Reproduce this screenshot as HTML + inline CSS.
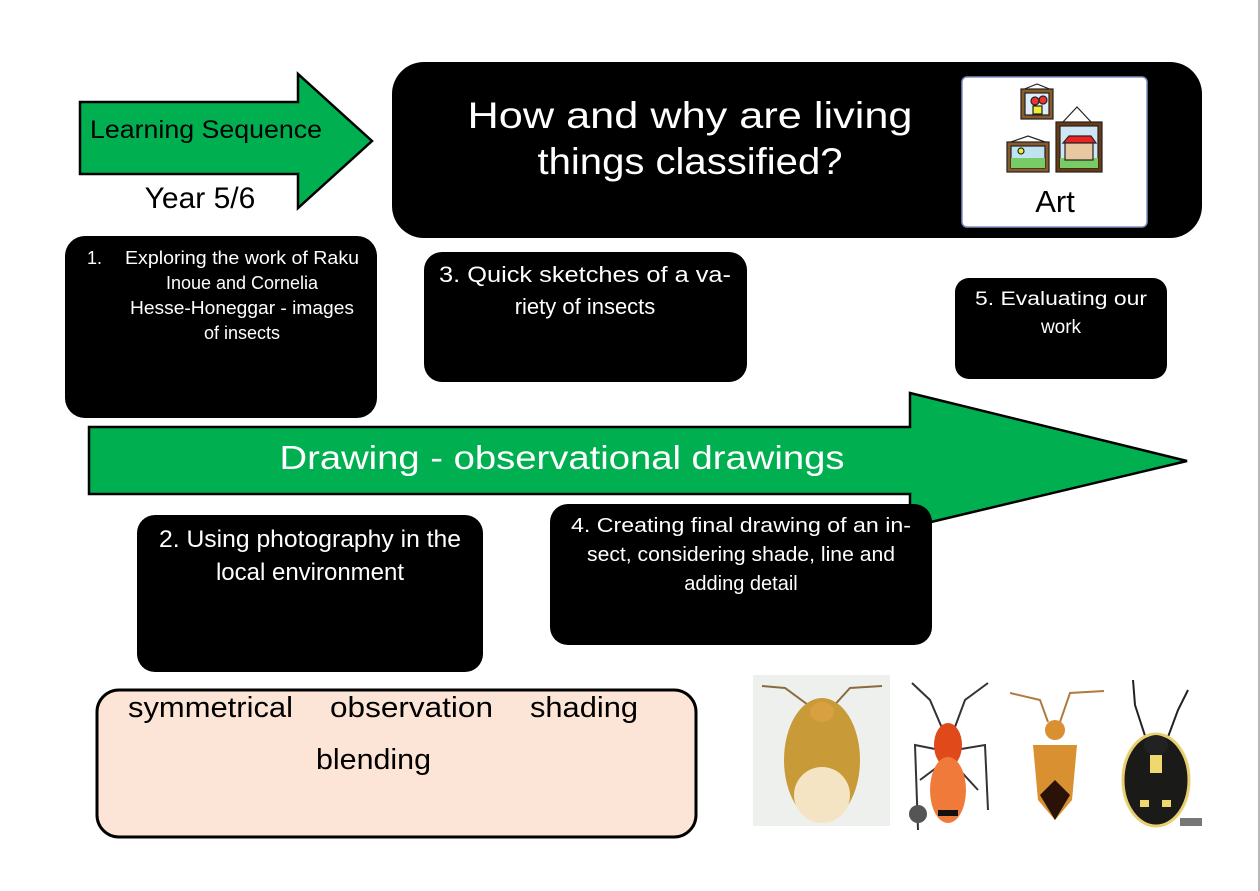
<!DOCTYPE html>
<html><head><meta charset="utf-8"><style>
html,body{margin:0;padding:0;background:#fff;}
svg{display:block;}
text{font-family:"Liberation Sans",sans-serif;font-weight:normal;}
</style></head><body>
<svg width="1260" height="891" viewBox="0 0 1260 891" xmlns="http://www.w3.org/2000/svg">
<rect width="1260" height="891" fill="#fff"/>
<line x1="1259" y1="0" x2="1259" y2="891" stroke="#b8b8b8" stroke-width="2"/>

<!-- top-left arrow -->
<polygon points="80,102 298,102 298,74 372,141 298,208 298,174 80,174" fill="#00b050" stroke="#000" stroke-width="2.5"/>
<text x="206" y="138" font-size="25" text-anchor="middle" fill="#000" textLength="232" lengthAdjust="spacingAndGlyphs">Learning Sequence</text>
<rect x="120" y="178" width="170" height="36" fill="#fff"/>
<text x="200" y="208" font-size="30" text-anchor="middle" fill="#000">Year 5/6</text>

<!-- title box -->
<rect x="392" y="62" width="810" height="176" rx="32" fill="#000"/>
<text x="690" y="128" font-size="37" text-anchor="middle" fill="#fff" textLength="445" lengthAdjust="spacingAndGlyphs">How and why are living</text>
<text x="690" y="174" font-size="37" text-anchor="middle" fill="#fff" textLength="305" lengthAdjust="spacingAndGlyphs">things classified?</text>

<!-- Art card -->
<rect x="962" y="77" width="185" height="150" rx="5" fill="#fff" stroke="#8090c0" stroke-width="1.5"/>
<g stroke="#222" stroke-width="1.2">
<polyline points="1022,90 1037,84 1052,90" fill="none"/>
<rect x="1021" y="89" width="32" height="30" fill="#8a5a2a"/>
<rect x="1025" y="93" width="24" height="22" fill="#dfeefa"/>
<circle cx="1035" cy="101" r="4" fill="#e33"/><circle cx="1043" cy="100" r="4" fill="#e33"/>
<rect x="1033" y="106" width="9" height="8" fill="#ee3"/>
<polyline points="1008,143 1028,136 1048,143" fill="none"/>
<rect x="1007" y="142" width="42" height="30" fill="#8a5a2a"/>
<rect x="1011" y="146" width="34" height="22" fill="#bfe3f0"/>
<rect x="1011" y="158" width="34" height="10" fill="#7c6" stroke="none"/>
<circle cx="1021" cy="151" r="3" fill="#ee3"/>
<polyline points="1062,123 1077,107 1092,123" fill="none"/>
<rect x="1056" y="122" width="46" height="50" fill="#6a3a12"/>
<rect x="1060" y="126" width="38" height="42" fill="#cfe6f5"/>
<rect x="1060" y="158" width="38" height="10" fill="#7c6" stroke="none"/>
<polygon points="1063,143 1069,136 1091,136 1096,143" fill="#e22"/>
<rect x="1065" y="143" width="28" height="17" fill="#e8c8a0"/>
</g>
<text x="1055" y="212" font-size="31" text-anchor="middle" fill="#000">Art</text>

<!-- box 1 -->
<rect x="65" y="236" width="312" height="182" rx="20" fill="#000"/>
<g fill="#fff" font-size="18" text-anchor="middle">
<text x="87" y="264" text-anchor="start">1.</text>
<text x="242" y="264" textLength="234" lengthAdjust="spacingAndGlyphs">Exploring the work of Raku</text>
<text x="242" y="289">Inoue and Cornelia</text>
<text x="242" y="314" textLength="224" lengthAdjust="spacingAndGlyphs">Hesse-Honeggar - images</text>
<text x="242" y="339">of insects</text>
</g>

<!-- box 3 -->
<rect x="424" y="252" width="323" height="130" rx="18" fill="#000"/>
<g fill="#fff" font-size="22" text-anchor="middle">
<text x="585" y="282" textLength="292" lengthAdjust="spacingAndGlyphs">3. Quick sketches of a va-</text>
<text x="585" y="314">riety of insects</text>
</g>

<!-- box 5 -->
<rect x="955" y="278" width="212" height="101" rx="14" fill="#000"/>
<g fill="#fff" font-size="19" text-anchor="middle">
<text x="1061" y="305" textLength="172" lengthAdjust="spacingAndGlyphs">5. Evaluating our</text>
<text x="1061" y="333">work</text>
</g>

<!-- big arrow -->
<polygon points="89,427 910,427 910,393 1187,461 910,527 910,494 89,494" fill="#00b050" stroke="#000" stroke-width="2.5"/>
<text x="562" y="469" font-size="33" text-anchor="middle" fill="#fff" textLength="565" lengthAdjust="spacingAndGlyphs">Drawing - observational drawings</text>

<!-- box 2 -->
<rect x="137" y="515" width="346" height="157" rx="18" fill="#000"/>
<g fill="#fff" font-size="24" text-anchor="middle">
<text x="310" y="547" textLength="302" lengthAdjust="spacingAndGlyphs">2. Using photography in the</text>
<text x="310" y="580">local environment</text>
</g>

<!-- box 4 -->
<rect x="550" y="504" width="382" height="141" rx="18" fill="#000"/>
<g fill="#fff" font-size="20" text-anchor="middle">
<text x="741" y="532" textLength="340" lengthAdjust="spacingAndGlyphs">4. Creating final drawing of an in-</text>
<text x="741" y="561" textLength="308" lengthAdjust="spacingAndGlyphs">sect, considering shade, line and</text>
<text x="741" y="590">adding detail</text>
</g>

<!-- pink box -->
<rect x="97" y="690" width="599" height="147" rx="22" fill="#fce4d6" stroke="#000" stroke-width="3"/>
<g fill="#000" font-size="29">
<text x="128" y="717" textLength="165" lengthAdjust="spacingAndGlyphs">symmetrical</text>
<text x="330" y="717" textLength="163" lengthAdjust="spacingAndGlyphs">observation</text>
<text x="530" y="717" textLength="108" lengthAdjust="spacingAndGlyphs">shading</text>
<text x="316" y="769" textLength="115" lengthAdjust="spacingAndGlyphs">blending</text>
</g>

<!-- insect images -->
<rect x="753" y="675" width="137" height="151" fill="#eef0ee"/>
<g stroke="#8a6a40" stroke-width="2" fill="none">
<path d="M815,710 L785,688 L762,686"/><path d="M830,710 L850,688 L882,686"/>
</g>
<ellipse cx="822" cy="760" rx="38" ry="62" fill="#c89a38"/>
<ellipse cx="822" cy="795" rx="28" ry="28" fill="#f4e4c4"/>
<ellipse cx="822" cy="712" rx="12" ry="10" fill="#d8a040"/>

<g stroke="#333" stroke-width="2" fill="none">
<path d="M945,735 L930,700 L912,683"/><path d="M952,735 L965,700 L988,683"/>
<path d="M940,750 L915,745 L918,830"/><path d="M955,750 L985,745 L988,810"/>
<path d="M940,765 L920,780"/><path d="M955,765 L978,790"/>
</g>
<ellipse cx="948" cy="745" rx="14" ry="22" fill="#e04a1a"/>
<ellipse cx="948" cy="790" rx="18" ry="33" fill="#f07a3a"/>
<rect x="938" y="810" width="20" height="6" fill="#111"/>
<circle cx="918" cy="814" r="9" fill="#555"/>

<g stroke="#b07a40" stroke-width="2" fill="none">
<path d="M1048,722 L1040,700 L1010,693"/><path d="M1060,722 L1070,693 L1104,691"/>
</g>
<path d="M1033,745 L1077,745 L1072,800 L1055,820 L1038,800 Z" fill="#d99030"/>
<ellipse cx="1055" cy="730" rx="10" ry="10" fill="#d99030"/>
<path d="M1040,795 L1055,780 L1070,795 L1055,820 Z" fill="#2a1208"/>

<g stroke="#222" stroke-width="2" fill="none">
<path d="M1148,745 L1135,705 L1133,680"/><path d="M1165,745 L1178,710 L1188,690"/>
</g>
<ellipse cx="1156" cy="780" rx="33" ry="46" fill="#1a1a18" stroke="#e8d070" stroke-width="3"/>
<ellipse cx="1156" cy="745" rx="12" ry="10" fill="#222"/>
<rect x="1150" y="755" width="12" height="18" fill="#f0d870"/>
<rect x="1140" y="800" width="9" height="7" fill="#f0d870"/>
<rect x="1162" y="800" width="9" height="7" fill="#f0d870"/>
<rect x="1180" y="818" width="22" height="8" fill="#777"/>
</svg>
</body></html>
